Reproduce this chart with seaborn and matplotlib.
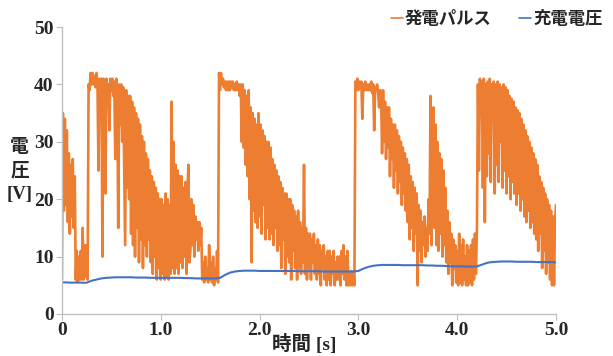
import numpy as np
import pandas as pd
import matplotlib
matplotlib.use("Agg")
import matplotlib.pyplot as plt
import seaborn as sns

# generated pulse [V], one reading every 0.01 s (0.00 .. 5.00 s), one row per 0.1 s
pulse = [
    6, 35, 18, 34, 19, 32, 16, 28, 14, 26,
    17, 27, 15, 24, 6, 11, 5.5, 10, 6, 11,
    6, 15, 6, 12, 6.5, 12, 6, 40, 39, 42,
    40, 42, 40, 41.5, 39.5, 42, 40, 25, 41, 40,
    41, 10, 41, 40, 21, 41, 39, 40, 32, 41,
    39, 41, 38, 40.5, 27, 41, 38, 15, 40, 33,
    40, 30, 39.5, 25, 12, 39, 22, 38, 20, 38,
    14, 37, 12, 36, 10, 35, 15, 34, 9, 33,
    13, 31, 8, 30, 12, 28, 10, 27, 13, 25,
    9, 24, 7, 23, 10, 22, 6, 21, 8, 20,
    6, 20, 7, 19, 6, 21, 6.5, 20, 6, 19,
    7, 37, 8, 30, 7, 26, 8, 25, 7, 24,
    9, 24, 8, 22, 10, 23, 7, 21, 26, 9,
    11, 20, 12, 19, 10, 17, 13, 16, 11, 16,
    12, 15, 6, 9, 5.5, 10, 6, 8, 5.5, 12,
    6, 9, 5.5, 10, 5, 8, 6, 11, 5.5, 42,
    39, 42, 40, 41, 39.5, 40.5, 39, 40.5, 39, 40.5,
    39, 40.5, 39.5, 40.5, 39, 40, 39, 40.5, 39, 40,
    38, 40, 30, 40, 29, 39, 26, 38, 24, 39,
    20, 36, 9, 35, 18, 34, 16, 33, 15, 35,
    17, 33, 14, 32, 19, 31, 13, 30, 15, 30,
    13, 29, 14, 27, 12, 26, 15, 25, 11, 24,
    12, 23, 8, 22, 13, 21, 7, 21, 10, 20,
    9, 20, 6, 19, 11, 18, 8, 17, 6, 18,
    8, 16, 7, 15, 9, 26, 7, 15, 6, 14,
    8, 14, 6, 13, 9, 14, 7, 12, 6, 13,
    7, 12, 5, 11, 8, 12, 6, 10, 5, 11,
    6, 11, 5, 10, 7, 11, 5, 9, 6, 10,
    6, 10, 5, 11, 7, 12, 6, 10, 5, 11,
    5, 7, 5, 7.5, 5, 7, 5, 40.5, 39, 41,
    39, 40.5, 39.5, 40.5, 34, 40, 39, 40.5, 39, 40,
    39, 40, 39, 40.5, 38.5, 40, 32, 39.5, 39, 40,
    38.5, 36, 39, 38, 28, 39, 30, 37, 27, 36,
    29, 36, 24, 34, 27, 33, 22, 33, 25, 32,
    21, 31, 23, 30, 19, 29, 21, 28, 18, 27,
    16, 26, 13, 24, 15, 23, 11, 22, 14, 21,
    5, 19, 11, 18, 9, 16, 12, 17, 10, 15,
    11, 20, 14, 38, 12, 30, 36, 15, 33, 12,
    30, 11, 28, 14, 27, 10, 25, 12, 22, 9,
    18, 7, 16, 9, 14, 5, 13, 8, 12, 5.5,
    11, 5, 14, 5.5, 12, 5, 13, 6, 10, 5,
    12, 5, 11, 5.5, 12, 5, 13, 6, 14, 7,
    15, 40, 25, 41, 39, 40.5, 22, 41, 16, 40,
    24, 40.5, 28, 41, 23, 40, 35, 40.5, 21, 40,
    26, 40.5, 23, 40, 30, 39.5, 22, 40, 25, 39.5,
    21, 39, 24, 38, 20, 37.5, 23, 37, 21, 36,
    19, 35.5, 21, 35, 18, 34, 20, 33, 17, 32,
    16, 31, 18, 30, 15, 29, 16, 28, 14, 27,
    13, 26, 11, 24, 14, 23, 8, 22, 11, 21,
    7, 20, 9, 19, 6, 18, 5, 17, 5, 16,
    19,
]

# charging voltage [V], one reading every 0.05 s (0.00 .. 5.00 s)
charge = [
    5.5, 5.5, 5.45, 5.5, 5.45, 5.45,
    5.8, 6.0, 6.2, 6.3,
    6.35, 6.4, 6.4, 6.4, 6.4, 6.35, 6.35, 6.35, 6.3, 6.3, 6.3,
    6.3, 6.3, 6.3, 6.3, 6.25, 6.25, 6.2, 6.2, 6.2, 6.2, 6.2,
    6.3, 6.8, 7.2, 7.4, 7.5, 7.55,
    7.55, 7.55, 7.5, 7.5, 7.5, 7.5, 7.5, 7.5, 7.5, 7.5, 7.45,
    7.45, 7.45, 7.45, 7.45, 7.4, 7.4, 7.4, 7.4, 7.4, 7.4, 7.4,
    7.5, 7.9, 8.2, 8.4, 8.5, 8.55,
    8.55, 8.55, 8.55, 8.5, 8.5, 8.5, 8.5, 8.5, 8.45, 8.45,
    8.4, 8.4, 8.35, 8.3, 8.3, 8.3, 8.25, 8.25, 8.3,
    8.6, 8.9, 9.05, 9.1,
    9.15, 9.15, 9.15, 9.1, 9.1, 9.1, 9.1, 9.05, 9.05, 9.05, 9.05, 9.0,
]

series_names = ["発電パルス", "充電電圧"]
series_colors = ["#ED7D31", "#4472C4"]
x_ticks = [0, 1, 2, 3, 4, 5]
x_tick_labels = ["0", "1.0", "2.0", "3.0", "4.0", "5.0"]
y_ticks = [0, 10, 20, 30, 40, 50]

t_pulse = np.linspace(0, 5, len(pulse))
t_charge = np.linspace(0, 5, len(charge))
df_pulse = pd.DataFrame({"t": t_pulse, "v": pulse})
df_charge = pd.DataFrame({"t": t_charge, "v": charge})

sns.set_style("white")
plt.rcParams['font.family'] = ['Liberation Serif', 'Noto Sans CJK JP', 'DejaVu Sans']

fig = plt.figure(figsize=(6.13, 3.56), dpi=100)
ax = fig.add_axes([0.101, 0.118, 0.806, 0.806])

sns.lineplot(data=df_pulse, x="t", y="v", ax=ax, color=series_colors[0],
             linewidth=1.9, estimator=None, label=series_names[0])
sns.lineplot(data=df_charge, x="t", y="v", ax=ax, color=series_colors[1],
             linewidth=1.5, estimator=None, label=series_names[1])

ax.set_xlim(0, 5)
ax.set_ylim(0, 50)
ax.set_xticks(x_ticks)
ax.set_xticklabels(x_tick_labels)
ax.set_yticks(y_ticks)
for lab in ax.get_xticklabels() + ax.get_yticklabels():
    lab.set_fontsize(14)
    lab.set_fontweight('bold')
ax.tick_params(axis='both', direction='out', length=4, width=0.8, color='#bfbfbf',
               pad=2, bottom=True, left=True)

for side in ['top', 'right']:
    ax.spines[side].set_visible(False)
for side in ['left', 'bottom']:
    ax.spines[side].set_color('#bfbfbf')
    ax.spines[side].set_linewidth(1.0)

ax.set_xlabel("")
ax.set_ylabel("")
fig.text(0.497, 0.035, "時間 [s]", ha='center', va='center', fontsize=14,
         fontweight='bold')
fig.text(0.032, 0.52, "電\n圧\n[V]", ha='center', va='center', fontsize=13.5,
         fontweight='bold', linespacing=1.45, multialignment='center')

leg = ax.legend(loc='upper right', bbox_to_anchor=(1.0, 1.0),
                bbox_transform=fig.transFigure, ncol=2, frameon=False,
                handlelength=0.7, handletextpad=0.1, columnspacing=1.6,
                borderaxespad=0.2, prop={'family': ['Noto Sans CJK JP'], 'size': 12.5,
                                         'weight': 'bold'})
for line in leg.get_lines():
    line.set_linewidth(1.2)

fig.savefig("out.png", dpi=100)
